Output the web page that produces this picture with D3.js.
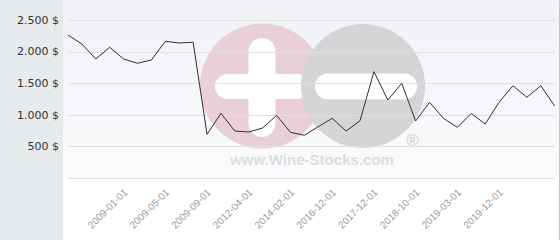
<!DOCTYPE html>
<html>
<head>
<meta charset="utf-8">
<script src="https://cdn.jsdelivr.net/npm/d3@7"></script>
<style>
  body { margin: 0; background: #fff; }
  svg { display: block; }
</style>
</head>
<body>
<svg id="chart" width="560" height="240"></svg>
<script>
// prices, one point per observation
const prices = [2262, 2120, 1883, 2068, 1883, 1815, 1867, 2163, 2136, 2147,
  691, 1023, 743, 728, 791, 992, 723, 676, 812, 944,
  743, 906, 1682, 1234, 1498, 902, 1198, 944, 802, 1023,
  854, 1198, 1460, 1277, 1460, 1139];

// x-axis labels and the point they sit under
const tickLabels = ["2009-01-01", "2009-05-01", "2009-09-01", "2012-04-01", "2014-02-01",
  "2016-12-01", "2017-12-01", "2018-10-01", "2019-03-01", "2019-12-01"];
const tickIndex = [4, 7, 10, 13, 16, 19, 22, 25, 28, 31];

const yTicks = [500, 1000, 1500, 2000, 2500];

const W = 560, H = 240;
const margin = { top: 20, right: 5, bottom: 62, left: 68 };

const svg = d3.select("#chart");

const defs = svg.append("defs");
const grad = defs.append("linearGradient")
  .attr("id", "bg").attr("x1", 0).attr("y1", 0).attr("x2", 0).attr("y2", 1);
grad.append("stop").attr("offset", "0%").attr("stop-color", "#f1f2f7");
grad.append("stop").attr("offset", "100%").attr("stop-color", "#fbfbfd");

// left panel
svg.append("rect").attr("x", 0).attr("y", 0).attr("width", 63).attr("height", H)
  .attr("fill", "#e8ebee");
// plot background
svg.append("rect").attr("x", 63).attr("y", 0).attr("width", W - 63).attr("height", 178)
  .attr("fill", "url(#bg)");
// right border
svg.append("line").attr("x1", 559.5).attr("x2", 559.5).attr("y1", 0).attr("y2", H)
  .attr("stroke", "#c4c6c8");

const x = d3.scaleLinear()
  .domain([0, prices.length - 1])
  .range([margin.left, 554.7]);

const y = d3.scaleLinear()
  .domain([0, 2500])
  .range([178, margin.top]);

// watermark
const wm = svg.append("g");
wm.append("circle").attr("cx", 262.5).attr("cy", 86).attr("r", 62.5).attr("fill", "#e9d0d7");
wm.append("rect").attr("x", 248.5).attr("y", 38).attr("width", 27).attr("height", 99)
  .attr("rx", 13.5).attr("fill", "#fff");
wm.append("rect").attr("x", 215).attr("y", 74).attr("width", 94).attr("height", 25)
  .attr("rx", 12.5).attr("fill", "#fff");
wm.append("circle").attr("cx", 363).attr("cy", 86).attr("r", 62).attr("fill", "#d5d5d8");
wm.append("rect").attr("x", 315).attr("y", 73.5).attr("width", 102).attr("height", 26)
  .attr("rx", 13).attr("fill", "#fff");
wm.append("text").attr("x", 312).attr("y", 165).attr("text-anchor", "middle")
  .attr("font-family", "Liberation Sans, Arial, sans-serif").attr("font-weight", "bold")
  .attr("font-size", 14).attr("fill", "#dcdcde")
  .attr("textLength", 164).attr("lengthAdjust", "spacingAndGlyphs")
  .text("www.Wine-Stocks.com");
wm.append("text").attr("x", 412.5).attr("y", 146).attr("text-anchor", "middle")
  .attr("font-family", "Liberation Sans, Arial, sans-serif").attr("font-weight", "bold")
  .attr("font-size", 17).attr("fill", "#d6d6d8")
  .text("®");

// gridlines
svg.append("g")
  .selectAll("line")
  .data([0].concat(yTicks))
  .enter()
  .append("line")
  .attr("x1", margin.left).attr("x2", 555)
  .attr("y1", d => Math.round(y(d)) + 0.5).attr("y2", d => Math.round(y(d)) + 0.5)
  .attr("stroke", "#dfe0e1").attr("stroke-width", 1);

// y labels
svg.append("g")
  .selectAll("text")
  .data(yTicks)
  .enter()
  .append("text")
  .attr("x", 59)
  .attr("y", d => y(d))
  .attr("dy", "0.35em")
  .attr("text-anchor", "end")
  .attr("font-family", "DejaVu Sans, sans-serif")
  .attr("font-size", 11)
  .attr("fill", "#333")
  .text(d => d3.format(",")(d).replace(",", ".") + " $");

// x labels
svg.append("g")
  .selectAll("text")
  .data(tickIndex)
  .enter()
  .append("text")
  .attr("transform", (d) => "translate(" + (x(d) + 4.5) + ",193)rotate(-45)")
  .attr("text-anchor", "end")
  .attr("font-family", "Liberation Sans, Arial, sans-serif")
  .attr("font-size", 10)
  .attr("fill", "#9c9c9c")
  .text((d, i) => tickLabels[i]);

// price line
svg.append("path")
  .datum(prices)
  .attr("d", d3.line().x((d, i) => x(i)).y(d => y(d)))
  .attr("fill", "none")
  .attr("stroke", "#3a2832")
  .attr("stroke-width", 1);
</script>
</body>
</html>
